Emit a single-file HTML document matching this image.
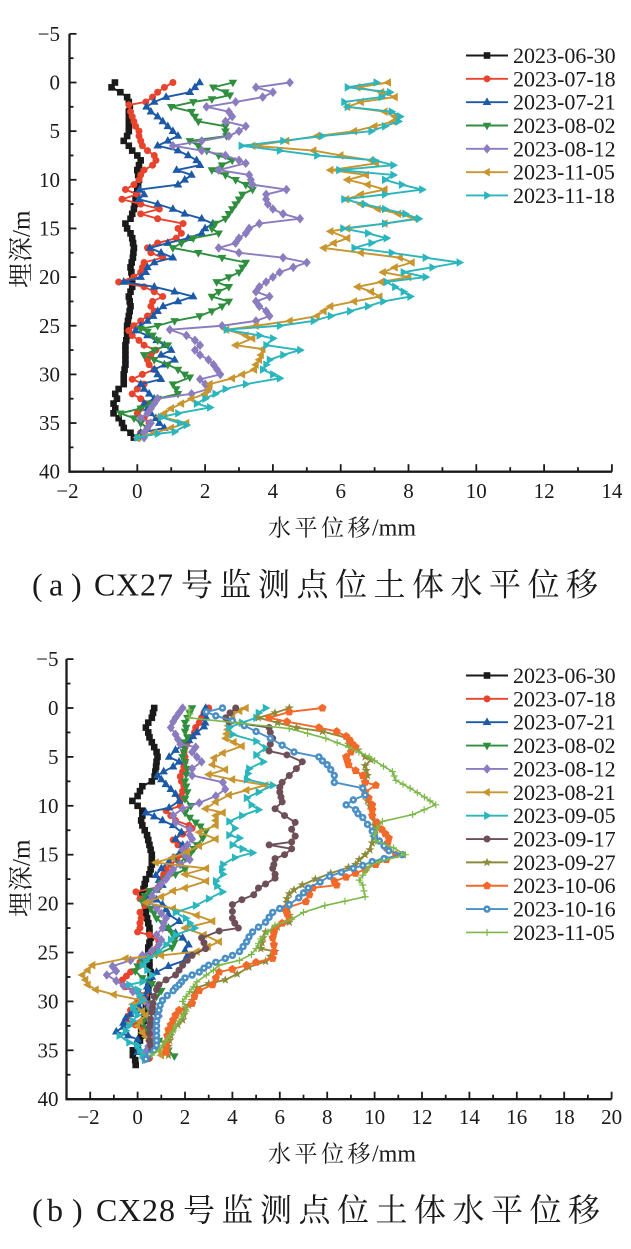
<!DOCTYPE html>
<html><head><meta charset="utf-8"><style>
html,body{margin:0;padding:0;background:#fff;}
svg{display:block;}
.n{font-family:"Liberation Serif",serif;font-size:21px;fill:#1a1a1a;}
.lg{font-family:"Liberation Serif",serif;font-size:22px;fill:#1a1a1a;}
.cj{font-family:"Liberation Serif","Noto Serif CJK SC",serif;fill:#1a1a1a;}
</style></head><body>
<svg id="s" xmlns="http://www.w3.org/2000/svg" width="631" height="1249" viewBox="0 0 631 1249">
<rect width="631" height="1249" fill="#fff"/>
<g class="n" text-anchor="end">
<text x="60" y="40.9">−5</text><text x="60" y="89.5">0</text><text x="60" y="138.2">5</text><text x="60" y="186.8">10</text><text x="60" y="235.5">15</text><text x="60" y="284.1">20</text><text x="60" y="332.8">25</text><text x="60" y="381.4">30</text><text x="60" y="430.1">35</text><text x="60" y="478.5">40</text>
</g>
<g class="n" text-anchor="middle">
<text x="67.5" y="498">−2</text><text x="137.3" y="498">0</text><text x="205.1" y="498">2</text><text x="272.9" y="498">4</text><text x="340.7" y="498">6</text><text x="408.5" y="498">8</text><text x="476.3" y="498">10</text><text x="544.1" y="498">12</text><text x="611.9" y="498">14</text>
</g>
<g class="n" text-anchor="end">
<text x="58.5" y="666.1">−5</text><text x="58.5" y="715">0</text><text x="58.5" y="763.9">5</text><text x="58.5" y="812.8">10</text><text x="58.5" y="861.7">15</text><text x="58.5" y="910.6">20</text><text x="58.5" y="959.5">25</text><text x="58.5" y="1008.4">30</text><text x="58.5" y="1057.3">35</text><text x="58.5" y="1106">40</text>
</g>
<g class="n" text-anchor="middle">
<text x="88.5" y="1124">−2</text><text x="137.6" y="1124">0</text><text x="185" y="1124">2</text><text x="232.4" y="1124">4</text><text x="279.8" y="1124">6</text><text x="327.2" y="1124">8</text><text x="374.6" y="1124">10</text><text x="422" y="1124">12</text><text x="469.4" y="1124">14</text><text x="516.8" y="1124">16</text><text x="564.2" y="1124">18</text><text x="611.6" y="1124">20</text>
</g>
<text class="cj" font-size="23" y="535.5" x="268 294.5 321 347.5">水平位移</text>
<text class="cj" font-size="24" y="535.5" x="372">/mm</text>
<text class="cj" font-size="23" y="1161.5" x="268 294.5 321 347.5">水平位移</text>
<text class="cj" font-size="24" y="1161.5" x="372">/mm</text>
<g transform="translate(29.5,288) rotate(-90)"><text class="cj" font-size="25" x="0 26">埋深</text><text class="cj" font-size="25" x="51">/m</text></g>
<g transform="translate(29.5,917) rotate(-90)"><text class="cj" font-size="25" x="0 26">埋深</text><text class="cj" font-size="25" x="51">/m</text></g>
<g class="lg">
<text x="513" y="63">2023-06-30</text><text x="513" y="86.3">2023-07-18</text><text x="513" y="109.7">2023-07-21</text><text x="513" y="133">2023-08-02</text><text x="513" y="156.3">2023-08-12</text><text x="513" y="179.7">2023-11-05</text><text x="513" y="203">2023-11-18</text>
</g>
<g class="lg">
<text x="513" y="683">2023-06-30</text><text x="513" y="706.4">2023-07-18</text><text x="513" y="729.7">2023-07-21</text><text x="513" y="753.1">2023-08-02</text><text x="513" y="776.4">2023-08-12</text><text x="513" y="799.8">2023-08-21</text><text x="513" y="823.2">2023-09-05</text><text x="513" y="846.5">2023-09-17</text><text x="513" y="869.9">2023-09-27</text><text x="513" y="893.2">2023-10-06</text><text x="513" y="916.6">2023-10-16</text><text x="513" y="940">2023-11-05</text>
</g>
<text class="cj" font-size="32" y="595.5" x="32 49 71 94 116 140 157">(a)CX27</text>
<text class="cj" font-size="32" y="595.5" x="181 219.5 258 296.5 335 373.5 412 450.5 489 527.5 566">号监测点位土体水平位移</text>
<text class="cj" font-size="32" y="1221" x="32 47 72 96 118 142 159">(b)CX28</text>
<text class="cj" font-size="32" y="1221" x="183 221.5 260 298.5 337 375.5 414 452.5 491 529.5 568">号监测点位土体水平位移</text>
<g id="plot"></g>
</svg>
<script>
(function(){
const NS="http://www.w3.org/2000/svg";
const root=document.getElementById('plot');
function el(tag,attrs,parent){const e=document.createElementNS(NS,tag);for(const k in attrs)e.setAttribute(k,attrs[k]);(parent||root).appendChild(e);return e;}
function poly(pts,x,y,c,g){el('polygon',{points:pts.map(p=>(x+p[0]).toFixed(2)+','+(y+p[1]).toFixed(2)).join(' '),fill:c},g);}
function star(x,y,c,g){const p=[];for(let i=0;i<10;i++){const r=i%2?2.0:4.8;const a=-Math.PI/2+i*Math.PI/5;p.push([r*Math.cos(a),r*Math.sin(a)]);}poly(p,x,y,c,g);}
function pent(x,y,c,g){const p=[];for(let i=0;i<5;i++){const a=-Math.PI/2+i*2*Math.PI/5;p.push([4.3*Math.cos(a),4.3*Math.sin(a)]);}poly(p,x,y,c,g);}
function marker(t,x,y,c,g){
 switch(t){
 case 'sq':el('rect',{x:x-3.3,y:y-3.3,width:6.6,height:6.6,fill:c},g);break;
 case 'ci':el('circle',{cx:x,cy:y,r:3.5,fill:c},g);break;
 case 'ring':el('circle',{cx:x,cy:y,r:3.7,fill:c},g);el('circle',{cx:x,cy:y,r:1.1,fill:'#fff'},g);break;
 case 'tu':poly([[0,-4.8],[4.3,2.8],[-4.3,2.8]],x,y,c,g);break;
 case 'td':poly([[0,4.8],[4.3,-2.8],[-4.3,-2.8]],x,y,c,g);break;
 case 'di':poly([[0,-4.8],[4,0],[0,4.8],[-4,0]],x,y,c,g);break;
 case 'tl':poly([[-4.8,0],[2.8,-4.3],[2.8,4.3]],x,y,c,g);break;
 case 'tr':poly([[4.8,0],[-2.8,-4.3],[-2.8,4.3]],x,y,c,g);break;
 case 'st':star(x,y,c,g);break;
 case 'pe':pent(x,y,c,g);break;
 case 'pl':el('path',{d:'M'+(x-3.5)+' '+y+'H'+(x+3.5)+'M'+x+' '+(y-3.5)+'V'+(y+3.5),stroke:c,'stroke-width':1.2,fill:'none'},g);break;
 }
}
function axes(ax){
 const g=el('g',{stroke:'#1a1a1a',fill:'none'});
 const x0=ax.X(ax.xmin), y0=ax.Y(ax.dmin), y1=ax.Y(ax.dmax), x1=ax.X(ax.xmax);
 el('path',{d:`M${x0} ${y0}V${y1}H${x1}`,'stroke-width':2.3},g);
 for(let d=ax.dmin;d<=ax.dmax+0.01;d+=2.5){const y=ax.Y(d);const L=(Math.abs(d%5)<0.01)?7:4;el('path',{d:`M${x0} ${y}H${x0+L}`,'stroke-width':1.8},g);}
 for(let v=Math.ceil(ax.xmin);v<=ax.xmax+0.01;v+=1){const x=ax.X(v);const L=(Math.abs(v%2)<0.01)?7.5:4.5;el('path',{d:`M${x} ${y1}V${y1-L}`,'stroke-width':1.8},g);}
}
function series(ax,s){
 const g=el('g',{});
 const pts=s.d.map(p=>[ax.X(p[1]),ax.Y(p[0])]);
 el('polyline',{points:pts.map(p=>p[0].toFixed(2)+','+p[1].toFixed(2)).join(' '),fill:'none',stroke:s.c,'stroke-width':s.w||1.9,'stroke-linejoin':'round'},g);
 const mk=[];
 for(let i=0;i<s.d.length;i++){
  mk.push(pts[i]);
  if(i<s.d.length-1){const gap=s.d[i+1][0]-s.d[i][0];const n=Math.round(gap/0.5);for(let k=1;k<n;k++){const f=k/n;mk.push([pts[i][0]+(pts[i+1][0]-pts[i][0])*f,pts[i][1]+(pts[i+1][1]-pts[i][1])*f]);}}
 }
 mk.forEach(p=>marker(s.m,p[0],p[1],s.c,g));
}
function legend(list,cy0,step){
 list.forEach((s,i)=>{const y=cy0+i*step;const g=el('g',{});el('path',{d:`M466 ${y}H508`,stroke:s.c,'stroke-width':s.w||1.9},g);marker(s.m,487,y,s.c,g);});
}
const C={k:'#1a1a1a',r:'#e8432d',b:'#1c5aa8',g:'#2f8f3f',p:'#8b7bbf',o:'#c8952e',t:'#2bb5bd',br:'#6e4f57',ol:'#8d8b3b',or:'#f2692a',lb:'#4a8fc6',lg:'#7db84a'};
const A={X:v=>69.5+(v+2)*33.9,Y:d=>82.5+9.73*d,xmin:-2,xmax:14,dmin:-5,dmax:40};
const B={X:v=>66.5+(v+3)*23.7,Y:d=>708+9.78*d,xmin:-3,xmax:20,dmin:-5,dmax:40};
const SA=[
{c:C.k,m:'sq',d:[[0,-0.66],[0.5,-0.76],[1,-0.5],[1.5,-0.3],[2,-0.25],[2.5,-0.22],[3,-0.25],[4,-0.25],[5,-0.25],[5.5,-0.3],[6,-0.4],[6.5,-0.25],[7,-0.15],[7.5,0.0],[8,0.1],[8.5,0.05],[9,0.0],[10,0.05],[11,0.0],[12,-0.05],[13,-0.1],[14,-0.2],[14.5,-0.35],[15,-0.3],[15.5,-0.2],[16,-0.15],[17,-0.1],[18,-0.13],[19,-0.2],[20,-0.15],[21,-0.15],[22,-0.25],[23,-0.2],[24,-0.25],[25,-0.3],[26,-0.3],[27,-0.35],[28,-0.35],[29,-0.35],[30,-0.4],[31,-0.4],[31.5,-0.55],[32,-0.65],[32.5,-0.6],[33,-0.7],[33.5,-0.65],[34,-0.7],[34.5,-0.55],[35,-0.45],[35.5,-0.4],[36,-0.2],[36.5,-0.1]]},
{c:C.r,m:'ci',d:[[0,1.05],[0.5,0.8],[1,0.6],[1.5,0.45],[2,0.25],[2.3,-0.25],[3,-0.2],[3.5,-0.15],[4,-0.1],[4.5,-0.05],[5,0.05],[5.5,0.05],[6,0.1],[6.5,0.15],[7,0.3],[7.5,0.5],[8,0.55],[8.5,0.45],[9,0.2],[9.5,0.1],[10,0.05],[10.5,-0.1],[11,-0.35],[11.5,0.0],[12,-0.45],[12.5,0.1],[13,0.65],[13.5,0.1],[14,0.6],[14.5,1.35],[15,1.2],[15.5,1.3],[16,1.15],[16.5,0.6],[17,0.3],[17.5,0.4],[18,0.75],[18.5,0.2],[19,0.15],[19.5,0.1],[20,-0.1],[20.5,-0.55],[21,0.2],[21.5,0.5],[22,0.75],[22.5,0.45],[23,0.4],[23.5,0.5],[24,0.3],[24.5,0.1],[25,-0.1],[25.5,-0.25],[26,-0.15],[26.5,0.05],[27,0.2],[27.5,0.55],[28,0.4],[28.5,0.3],[29,0.35],[29.5,0.5],[30,0.15],[30.5,-0.15],[31,0.2],[31.5,0.0],[32,-0.15],[32.5,0.1],[33,0.25],[33.5,0.1],[34,0.0],[34.5,0.2],[35,0.35],[35.5,0.3],[36,0.1],[36.5,0.0]]},
{c:C.b,m:'tu',d:[[0,1.84],[0.5,1.7],[1,1.55],[1.5,0.85],[2,0.5],[2.5,0.27],[3,0.4],[3.5,0.6],[4,0.75],[4.5,0.9],[5,1.05],[5.5,1.2],[6,0.9],[6.5,0.6],[7,1.2],[7.5,1.5],[8,1.75],[8.5,1.85],[9,1.16],[9.5,1.6],[10,1.4],[10.5,1.2],[11,0.07],[11.5,0.2],[12,0.05],[12.5,0.6],[13,1.05],[13.5,1.4],[14,1.9],[14.5,2.23],[15,2.0],[15.5,1.9],[16,1.5],[16.5,0.9],[17,0.37],[17.5,0.7],[18,1.05],[18.5,0.5],[19,0.3],[19.5,0.25],[20,0.1],[20.5,-0.4],[21,0.5],[21.5,1.1],[22,1.65],[22.5,1.2],[23,0.76],[23.5,0.6],[24,0.47],[24.5,0.3],[25,0.1],[25.5,-0.05],[26,0.3],[26.5,0.57],[27,0.8],[27.5,1.0],[28,0.7],[28.5,1.1],[29,0.8],[29.5,0.5],[30,0.6],[30.5,0.7],[31,0.1],[31.5,0.2],[32,0.35],[32.5,0.5],[33,0.2],[33.5,0.3],[34,0.4],[34.5,0.55],[35,0.65],[35.5,0.8],[36,0.1],[36.5,0.0]]},
{c:C.g,m:'td',d:[[0,2.82],[0.5,2.24],[1,2.6],[1.3,2.73],[1.7,2.2],[2,1.65],[2.5,1.0],[3,1.6],[3.5,1.7],[4,1.8],[4.5,2.6],[5,2.6],[5.5,2.63],[6,1.55],[6.5,1.8],[7,2.05],[7.5,2.4],[8,2.8],[8.5,2.5],[9,2.2],[9.5,2.6],[10,2.9],[10.5,3.2],[11,3.4],[11.5,3.1],[12,3.0],[12.5,2.9],[13,2.8],[13.5,2.7],[14,2.6],[14.5,2.3],[15,2.2],[15.5,2.4],[16,1.65],[16.5,1.3],[17,1.05],[17.5,1.8],[18,2.5],[18.5,3.2],[19,3.1],[19.5,3.0],[20,2.7],[20.5,2.34],[21,2.7],[21.5,2.4],[22,2.2],[22.5,2.7],[23,2.5],[23.5,2.2],[24,1.84],[24.5,1.1],[25,0.6],[25.3,0.1],[25.6,0.3],[26,0.45],[26.5,0.6],[27,0.9],[27.5,0.5],[28,0.2],[28.5,0.5],[29,0.9],[29.5,1.2],[30,1.4],[30.3,1.55],[31,1.05],[31.5,1.15],[32,1.2],[32.5,0.6],[33,0.4],[33.5,0.1],[34,-0.5],[34.5,-0.1],[35,0.1],[35.5,0.3],[36,0.2],[36.5,0.05]]},
{c:C.p,m:'di',d:[[0,4.5],[0.5,3.5],[1,4.0],[1.5,3.7],[2,2.9],[2.5,2.04],[3,2.7],[3.5,2.8],[4,2.6],[4.5,3.2],[5,3.0],[5.5,2.7],[6,1.9],[6.5,1.05],[7,1.9],[7.5,2.6],[8,3.0],[8.3,3.2],[9,2.4],[9.5,3.3],[10,3.35],[10.5,3.4],[11,4.4],[11.5,3.8],[12,3.8],[12.5,3.85],[13,4.0],[13.5,4.3],[14,4.8],[14.5,3.6],[15,3.3],[15.5,3.2],[16,3.0],[16.5,2.9],[17,2.4],[17.5,3.0],[18,4.3],[18.5,5.0],[19,4.6],[19.5,4.2],[20,4.0],[20.5,3.8],[21,3.6],[21.5,3.5],[22,3.9],[22.5,3.5],[23,3.6],[23.5,3.8],[24,3.9],[24.5,3.5],[25,2.5],[25.4,0.96],[26,1.45],[26.5,1.7],[27,1.85],[27.5,1.7],[28,1.85],[28.5,2.1],[29,2.25],[29.5,2.35],[30,2.45],[30.5,1.85],[31,2.0],[31.5,2.1],[32,1.6],[32.5,0.6],[33,0.5],[33.5,0.4],[34,0.3],[34.5,0.1],[35,0.4],[35.5,0.3],[36,0.2],[36.5,0.2]]},
{c:C.o,m:'tl',d:[[0,7.4],[0.5,6.5],[1,7.2],[1.5,7.6],[2,6.6],[2.5,6.2],[3,7.3],[3.5,7.6],[4,7.55],[4.5,7.0],[5,6.4],[5.5,5.3],[6,4.4],[6.5,3.4],[7,5.2],[7.5,6.0],[8,6.9],[8.3,7.05],[9,5.7],[9.5,6.75],[10,6.2],[10.5,6.8],[11,7.3],[11.5,6.6],[12,6.17],[12.5,6.6],[13,7.1],[13.5,7.7],[14,8.2],[14.5,7.3],[15,6.2],[15.3,5.7],[16,6.2],[16.5,5.8],[17,5.5],[17.5,6.6],[18,7.75],[18.5,8.1],[19,7.6],[19.5,7.25],[20,8.0],[20.5,7.2],[21,6.5],[21.5,6.9],[22,7.15],[22.5,6.4],[23,5.7],[23.5,5.5],[24,5.3],[24.5,4.5],[25,3.5],[25.4,2.63],[26,3.2],[26.3,3.4],[27,2.9],[27.4,3.7],[28,3.65],[28.5,3.6],[29,3.5],[29.5,3.45],[30,3.1],[30.4,2.8],[31,2.14],[31.5,2.1],[32,2.0],[32.5,1.6],[33,1.3],[33.5,1.0],[34,0.8],[34.3,0.66],[35,1.45],[35.5,1.0],[36,0.5],[36.5,0.0]]},
{c:C.t,m:'tr',d:[[0,7.05],[0.5,6.2],[1,7.45],[1.5,7.2],[2,6.1],[2.5,6.2],[3,7.5],[3.5,7.75],[4,7.7],[4.5,7.3],[5,6.9],[5.5,5.45],[6,4.3],[6.5,3.07],[7,4.2],[7.5,5.3],[8,7.0],[8.5,7.55],[9,5.95],[9.5,7.55],[10,7.3],[10.5,7.8],[11,8.4],[11.5,7.3],[12,6.1],[12.5,6.7],[13,7.3],[13.5,7.9],[14,8.3],[14.5,7.3],[15,6.07],[15.5,6.8],[16,7.35],[16.5,6.9],[17,6.4],[17.5,7.5],[18,8.5],[18.5,9.5],[19,8.7],[19.5,7.85],[20,8.5],[20.5,7.35],[21,7.6],[21.5,7.85],[22,8.05],[22.5,7.25],[23,6.8],[23.5,6.27],[24,5.7],[24.5,5.2],[25,4.2],[25.4,2.63],[26,3.6],[26.3,4.0],[27,3.8],[27.5,4.8],[28,4.3],[28.5,3.9],[29,3.8],[29.5,3.7],[30,4.0],[30.4,4.2],[31,3.2],[31.5,2.6],[32,2.3],[32.5,2.0],[33,1.75],[33.4,2.14],[34,1.2],[34.4,0.7],[35,1.25],[35.2,1.45],[35.9,1.1],[36.1,0.6],[36.5,0.0]]}
];
const SB=[
{c:C.k,m:'sq',d:[[0,0.7],[0.5,0.65],[1,0.6],[1.5,0.45],[2,0.35],[2.5,0.45],[3,0.5],[3.5,0.6],[4,0.7],[4.5,0.8],[5,0.84],[5.5,0.8],[6,0.78],[6.5,0.75],[7,0.72],[7.5,0.6],[8,0.2],[8.5,0.1],[9,0.0],[9.5,-0.22],[10,0.0],[10.5,0.2],[11,0.2],[11.5,0.15],[12,0.2],[12.5,0.3],[13,0.4],[13.5,0.45],[14,0.5],[14.5,0.55],[15,0.6],[15.5,0.6],[16,0.6],[16.5,0.55],[17,0.5],[17.5,0.35],[18,0.3],[18.5,0.25],[19,0.2],[19.5,0.25],[20,0.3],[20.5,0.35],[21,0.35],[21.5,0.4],[22,0.45],[22.5,0.5],[23,0.5],[23.5,0.55],[24,0.5],[24.5,0.45],[25,0.45],[25.5,0.45],[26,0.5],[26.5,0.5],[27,0.55],[27.5,0.55],[28,0.5],[28.5,0.45],[29,0.45],[29.5,0.4],[30,0.4],[30.5,0.35],[31,0.35],[31.5,0.3],[32,0.25],[32.5,0.2],[33,0.15],[33.5,0.15],[34,0.1],[34.5,0.0],[35,-0.2],[35.5,-0.2],[36,-0.1],[36.5,-0.08]]},
{c:C.r,m:'ci',d:[[0,3.0],[0.5,2.8],[1,2.7],[1.5,2.6],[2,2.45],[2.5,2.4],[3,2.2],[3.5,2.1],[4,2.0],[4.5,1.96],[5,2.0],[5.5,2.0],[6,1.95],[6.5,1.9],[7,1.8],[7.5,1.85],[8,1.95],[8.5,1.9],[9,1.85],[9.5,1.8],[10,1.8],[10.5,1.2],[11,1.4],[11.5,1.6],[12,2.17],[12.3,2.3],[12.9,1.9],[13.5,1.5],[14,1.7],[14.5,1.95],[15,1.8],[15.5,1.65],[16,1.4],[16.5,1.2],[17,1.1],[17.5,1.0],[18,0.95],[18.3,0.9],[18.8,-0.07],[19.5,0.1],[20.2,0.3],[20.9,0.1],[21.5,0.15],[22,0.1],[22.5,0.1],[22.9,0.0],[23.2,0.5],[23.9,0.9],[24.6,0.8],[25,0.6],[25.5,0.3],[26,0.1],[26.4,0.05],[27,-0.3],[27.8,-0.64],[28.5,-0.5],[29,0.0],[29.3,0.35],[30,0.0],[30.9,-0.3],[31.5,-0.4],[31.9,-0.5],[32.4,-0.1],[32.9,0.2],[33.3,0.4],[33.7,0.55],[34.2,0.7],[34.6,0.77],[35.3,0.35],[35.8,0.5]]},
{c:C.b,m:'tu',d:[[0,2.87],[0.5,2.8],[1,2.9],[1.5,2.85],[1.9,2.8],[2.5,2.5],[3.3,2.17],[3.8,1.9],[4.3,1.6],[5,1.33],[5.5,1.75],[6,1.5],[6.5,1.1],[6.9,0.84],[7.3,1.0],[7.8,1.19],[8.3,1.4],[8.8,1.6],[9.5,1.75],[10.2,1.33],[10.7,0.35],[11.1,0.7],[11.5,1.05],[12,1.5],[12.7,1.85],[13.4,1.6],[14,1.9],[14.6,1.83],[15.3,1.5],[15.8,1.3],[16.4,1.0],[17.1,0.77],[17.6,0.9],[18.1,1.05],[18.6,0.8],[19.2,0.5],[19.6,0.8],[20.1,1.05],[20.6,1.2],[21.1,1.3],[21.8,1.75],[22.5,1.3],[23,1.6],[23.5,1.9],[24.2,2.15],[24.8,2.0],[25.3,2.1],[25.8,2.0],[26.4,1.3],[27,0.8],[27.5,0.6],[28,0.5],[28.5,0.4],[28.9,0.45],[29.5,0.3],[30,0.2],[30.5,0.05],[30.9,-0.07],[31.3,-0.3],[31.7,-0.5],[32.2,-0.6],[32.6,-0.6],[33.1,-0.9],[33.5,-0.4],[33.9,0.0],[34.5,0.0],[35.2,0.0],[35.9,0.35]]},
{c:C.g,m:'td',d:[[0,2.3],[0.5,2.2],[1,2.1],[1.5,2.0],[2,2.05],[2.4,2.0],[3,2.1],[3.5,1.95],[4,2.0],[4.5,1.95],[5,1.9],[5.5,2.0],[6.2,2.1],[6.8,2.05],[7.5,2.0],[8,2.05],[8.6,2.1],[9.3,2.0],[10,2.25],[10.7,2.0],[11.2,2.2],[11.7,2.45],[12.1,2.65],[12.6,2.88],[13.3,2.75],[14,2.5],[14.8,2.25],[15.3,2.0],[15.9,1.75],[16.5,2.0],[17,1.6],[17.4,1.19],[17.9,1.0],[18.4,0.9],[18.7,0.5],[19.2,0.3],[19.8,0.2],[20.5,0.55],[21,0.7],[21.5,0.8],[22,1.05],[22.5,1.3],[23,1.45],[23.5,1.6],[24,1.55],[24.5,1.45],[25.2,0.8],[25.9,0.2],[26.4,0.0],[26.9,-0.1],[27.6,0.2],[28.2,0.6],[28.9,1.0],[29.5,0.8],[30.2,0.6],[30.9,0.5],[31.5,0.35],[32.2,0.2],[32.8,0.4],[33.3,0.6],[34,0.9],[34.3,1.2],[35,1.3],[35.6,1.55]]},
{c:C.p,m:'di',d:[[0,1.9],[0.5,1.75],[1,1.6],[1.4,1.5],[2,1.4],[2.7,1.6],[3.2,1.7],[3.7,1.8],[4,2.45],[4.5,2.3],[5,2.5],[5.5,2.7],[6.2,2.3],[6.9,2.3],[7.6,3.6],[8.3,3.7],[9,3.3],[9.7,2.6],[10.3,1.9],[11,1.5],[11.7,1.6],[12.4,2.2],[13,2.2],[13.4,2.3],[14,2.1],[14.5,1.9],[15,2.0],[15.5,2.2],[16,1.8],[16.5,1.5],[17,1.35],[17.5,1.2],[18,1.0],[18.5,0.8],[19.2,0.6],[19.8,0.5],[20.5,0.8],[21,1.0],[21.5,1.2],[22,1.1],[22.5,1.05],[23.2,0.8],[23.7,1.0],[24.2,0.9],[24.8,0.6],[25.3,0.2],[25.8,-0.3],[26.4,-1.06],[26.9,-0.9],[27.3,-1.3],[27.9,-0.9],[28.4,-0.6],[29,-0.2],[29.5,0.1],[30,0.3],[30.5,0.5],[31,0.7],[31.5,0.9],[32,0.8],[32.5,0.7],[33,0.6],[33.5,0.55],[34.1,0.5],[34.6,0.45],[35.1,0.35],[35.9,0.3]]},
{c:C.o,m:'tl',d:[[0,4.57],[0.3,4.3],[0.7,4.0],[1.4,3.86],[2.2,3.8],[3.1,3.72],[3.9,4.4],[4.6,3.6],[5.1,3.23],[5.8,3.16],[6.3,3.7],[6.8,3.0],[7.3,4.0],[7.9,5.4],[8.4,4.6],[8.9,3.86],[9.6,3.3],[10.3,2.87],[10.7,3.6],[11,3.3],[11.5,3.3],[12,3.3],[12.7,2.6],[13.4,3.3],[14.1,2.6],[14.7,2.1],[15.3,1.47],[15.8,0.77],[16.4,2.9],[17,2.0],[17.7,2.9],[18.4,2.0],[18.7,1.5],[19.3,1.0],[19.9,0.35],[20.5,1.5],[21.2,2.5],[21.8,3.16],[22.5,2.0],[23.2,2.8],[23.9,3.44],[24.9,2.5],[25.3,1.0],[25.6,-0.5],[26.3,-1.9],[26.8,-2.1],[27.3,-2.33],[27.8,-2.2],[28.3,-2.1],[28.8,-1.76],[29.3,-1.0],[29.9,0.2],[30.3,-0.2],[31,0.2],[31.4,0.35],[32,0.1],[32.5,0.0],[33.2,0.2],[34,0.5],[34.5,0.7],[35,0.9],[35.5,1.0]]},
{c:C.t,m:'tr',d:[[0,5.4],[0.5,5.1],[1,5.0],[1.5,4.4],[2,3.86],[2.7,4.0],[3.4,5.0],[4.1,5.4],[4.8,5.0],[5.5,5.3],[6.2,4.7],[6.7,4.65],[7.3,4.6],[7.9,5.7],[8.6,5.1],[9.2,4.6],[9.9,4.8],[10.4,5.1],[11,4.4],[11.6,3.86],[12.3,4.1],[13,3.86],[13.3,4.3],[14,4.0],[14.8,4.85],[15.3,4.1],[16,3.6],[16.5,3.55],[17,3.6],[17.7,3.3],[18.2,3.35],[18.8,3.58],[19.5,3.0],[20.2,2.45],[20.9,1.6],[21.5,2.03],[22,2.2],[22.5,2.4],[23.2,1.6],[23.7,1.4],[24.2,1.2],[24.9,0.9],[25.5,0.5],[26.3,0.2],[26.8,0.4],[27.3,0.6],[28,0.2],[28.3,-0.36],[28.8,0.0],[29.3,0.1],[29.9,0.2],[30.6,-0.2],[31,-0.1],[31.4,0.0],[32,-0.2],[32.5,-0.36],[33,-0.5],[33.5,-0.77],[34.2,-0.36],[34.5,0.0],[35,0.1],[35.5,0.2],[36,0.3]]},
{c:C.br,m:'ci',d:[[0,4.14],[0.5,3.9],[1,3.72],[1.4,3.86],[2,5.55],[2.5,5.6],[3.1,5.7],[3.7,5.6],[4.4,5.55],[4.8,6.3],[5.5,6.95],[6.2,6.7],[6.9,6.4],[7.6,6.1],[8.1,6.0],[8.6,6.0],[9.1,6.05],[9.6,6.1],[10.3,5.8],[11,6.2],[11.7,6.65],[12.4,6.5],[13.1,6.65],[13.7,6.5],[14,5.55],[14.4,6.5],[15,6.2],[15.4,5.8],[16,5.75],[16.4,5.7],[17,5.8],[17.4,5.8],[18,5.4],[18.4,5.1],[19.1,4.9],[19.6,4.4],[20.1,4.0],[20.8,4.0],[21.5,4.0],[22,4.1],[22.5,4.25],[22.8,3.44],[23.5,2.7],[24,2.8],[24.6,2.87],[25.3,2.3],[25.8,2.1],[26.3,1.9],[26.8,1.75],[27.3,1.6],[27.8,1.2],[28.3,0.9],[28.8,0.8],[29.5,0.7],[30.2,0.65],[31.1,0.6],[31.8,0.55],[32.6,0.5],[33.3,0.5],[34,0.5],[34.5,0.55],[35,0.6]]},
{c:C.ol,m:'st',d:[[0,6.4],[0.5,5.8],[1,5.1],[1.5,5.9],[2,6.7],[2.4,7.8],[3.1,8.9],[3.7,8.9],[4.3,9.3],[5,9.6],[5.3,9.84],[5.9,9.6],[6.4,9.65],[6.9,9.7],[7.5,9.6],[8,9.5],[8.5,9.55],[9,9.6],[9.5,9.7],[10,9.8],[10.5,9.9],[11,9.9],[11.5,10.0],[12,10.0],[12.5,10.05],[13.2,9.95],[13.8,9.9],[14.5,9.8],[15,9.6],[15.5,9.35],[16,9.2],[16.3,8.9],[16.9,8.15],[17.5,7.5],[18.1,6.95],[18.6,6.6],[19,6.4],[19.5,6.3],[19.9,6.3],[20.5,6.35],[21.2,6.4],[21.9,6.4],[22.4,5.9],[22.9,5.4],[23.5,5.3],[24,5.25],[24.6,5.2],[24.9,5.8],[25.4,5.6],[25.9,5.4],[26.5,4.7],[27.2,4.2],[27.8,3.7],[28.2,3.0],[28.6,2.5],[29.2,2.4],[29.9,2.3],[30.4,2.15],[30.9,2.0],[31.4,1.95],[31.9,1.9],[32.4,1.7],[32.9,1.5],[33.5,1.4],[34,1.35],[34.6,1.3],[35.1,1.2],[35.5,1.3]]},
{c:C.or,m:'pe',d:[[0,7.8],[0.4,6.4],[1,5.55],[1.4,6.3],[2,7.65],[2.4,8.4],[2.9,8.8],[3.3,8.95],[3.7,9.07],[4,9.2],[4.5,9.0],[5,8.8],[5.4,8.85],[5.8,8.9],[6.4,9.2],[6.9,9.5],[7.6,9.6],[7.9,10.05],[8.6,9.6],[9.2,9.75],[9.9,9.9],[10.4,9.9],[11,9.9],[11.7,10.1],[12.4,10.3],[13.3,10.6],[14.3,10.5],[15,10.9],[15.5,10.5],[16,10.05],[16.5,9.6],[16.9,9.2],[17.3,8.8],[17.7,8.3],[18.1,8.4],[18.4,7.4],[19.1,7.25],[19.8,7.1],[20.5,6.2],[21,6.3],[21.5,6.4],[22,6.1],[22.5,5.8],[23,5.75],[23.5,5.7],[24.2,5.75],[24.9,5.76],[25.6,5.7],[26,5.0],[26.3,4.6],[26.7,4.0],[27,3.44],[27.6,3.3],[28.3,3.16],[28.9,2.6],[29.5,2.4],[30.2,2.3],[30.9,1.75],[31.4,1.6],[31.9,1.5],[32.4,1.4],[32.9,1.3],[33.5,1.25],[34.2,1.2],[34.7,1.2],[35.2,1.2]]},
{c:C.lb,m:'ring',d:[[0,3.58],[0.4,2.9],[0.8,3.3],[1.3,4.0],[1.8,4.5],[2.4,5.0],[3.1,5.6],[3.8,6.1],[4.5,6.6],[5,7.65],[5.4,7.8],[5.8,8.0],[6.3,8.15],[6.9,8.3],[7.6,8.3],[8.2,9.5],[8.9,9.6],[9.4,9.1],[9.9,8.8],[10.4,9.2],[10.8,9.3],[11.2,9.5],[11.9,9.7],[12.6,9.9],[13.1,10.0],[13.6,10.2],[14.1,10.4],[14.6,10.6],[15,11.17],[15.4,10.4],[15.7,9.9],[16.1,9.5],[16.4,9.1],[16.8,8.6],[17.2,8.1],[17.8,7.7],[18.4,7.2],[18.9,7.0],[19.4,6.8],[20.1,6.4],[20.5,6.0],[20.9,5.7],[21.4,5.55],[21.9,5.4],[22.4,5.1],[22.9,4.85],[23.4,4.7],[23.9,4.6],[24.4,4.45],[24.9,4.3],[25.3,4.0],[25.6,3.7],[26,3.3],[26.3,3.0],[26.6,2.8],[27,2.6],[27.3,2.3],[27.6,2.0],[28,1.85],[28.3,1.75],[28.6,1.6],[28.9,1.5],[29.4,1.25],[29.9,1.05],[30.4,0.95],[30.9,0.9],[31.5,0.85],[32,0.8],[32.5,0.8],[33,0.8],[33.5,0.8],[34,0.8],[34.5,0.8],[35,0.7],[35.4,0.5],[35.9,0.35]]},
{c:C.lg,m:'pl',w:1.6,d:[[0.2,2.17],[0.6,2.2],[1,2.17],[2.1,6.4],[3.1,7.94],[4,8.9],[5,9.77],[5.4,10.0],[6.5,10.75],[7.4,10.9],[8.2,11.5],[9.1,12.1],[9.9,12.58],[10.9,11.6],[11.6,10.33],[12.3,10.1],[12.9,10.0],[13.6,10.05],[14.3,10.8],[15,11.3],[15.7,10.2],[16.2,9.77],[17.1,9.5],[17.6,9.35],[18.1,9.5],[19.3,9.6],[20.2,7.9],[20.9,7.0],[21.6,6.5],[22.2,5.8],[22.9,5.5],[23.6,5.2],[24.1,5.1],[24.6,5.0],[25.2,4.8],[25.8,4.3],[26.3,3.44],[26.8,3.2],[27.3,2.9],[28,2.5],[28.5,2.35],[29,2.2],[29.5,2.05],[30,1.9],[30.5,2.0],[31,2.05],[31.5,1.9],[32,1.75],[32.5,1.6],[33,1.5],[33.5,1.35],[34,1.2],[34.5,1.05],[35,0.9],[35.5,0.6]]}
];
axes(A);axes(B);
SA.forEach(s=>series(A,s));
SB.forEach(s=>series(B,s));
legend(SA,55.5,23.33);
legend(SB,675.5,23.36);
})();
</script>
</body></html>
